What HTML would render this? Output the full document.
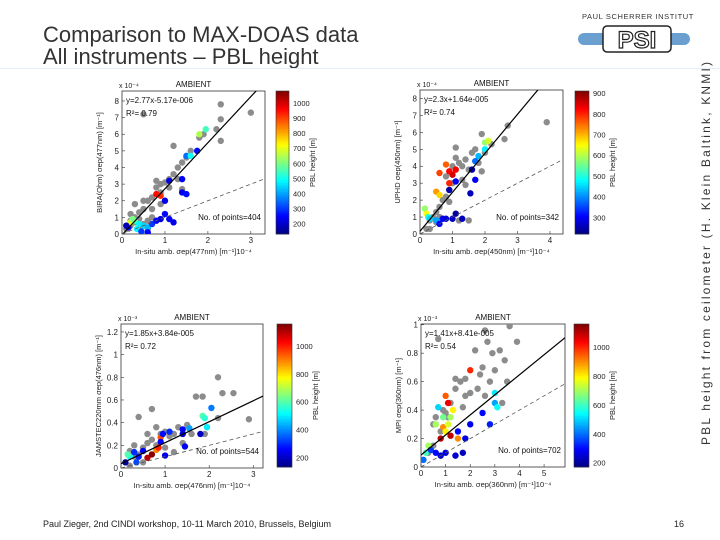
<!DOCTYPE html>
<html><head><meta charset="utf-8">
<style>
body{margin:0;background:#fff;}
#root{position:relative;width:720px;height:540px;overflow:hidden;background:#fff;font-family:"Liberation Sans",sans-serif;}
.title{position:absolute;left:43px;top:24px;font-size:22px;line-height:22px;color:#333;}
.foot{position:absolute;top:519px;font-size:9px;color:#222;}
svg text{font-family:"Liberation Sans",sans-serif;}
</style></head><body>
<div id="root">
<div class="title">Comparison to MAX-DOAS data<br>All instruments – PBL height</div>
<svg style="position:absolute;left:570px;top:8px" width="130" height="50">
<text x="12" y="11" font-size="7.5" fill="#333" letter-spacing="0.6">PAUL SCHERRER INSTITUT</text>
<rect x="8" y="25" width="112" height="12" rx="6" fill="#6a9fcf"/>
<rect x="33" y="18" width="68" height="26" rx="4" fill="#fff" stroke="#222" stroke-width="1.5"/>
<text x="67" y="40" font-size="24" font-weight="bold" text-anchor="middle" fill="#fff" stroke="#222" stroke-width="1.2">PSI</text>
</svg>
<div style="position:absolute;left:0;top:68px;width:720px;height:1px;background:#dff2f5"></div>
<svg style="position:absolute;left:690px;top:55px" width="25" height="395">
<text x="0" y="0" font-size="12" fill="#333" transform="translate(20 390) rotate(-90)" textLength="383" lengthAdjust="spacing">PBL height from ceilometer (H. Klein Baltink, KNMI)</text>
</svg>
<div class="foot" style="left:43px">Paul Zieger, 2nd CINDI workshop, 10-11 March 2010, Brussels, Belgium</div>
<div class="foot" style="left:674px">16</div>
<svg id="charts" width="720" height="540" style="position:absolute;left:0;top:0"></svg>
</div>
<script>
// Plot 1: BIRA (x 1e-4, y 1e-4)
const p1GrayX=[0.2,0.3,0.4,0.5,0.6,0.7,0.8,0.9,1,1.1,1.2,1.3,1.4,1.6,1.2,0.5,2.3,3,2.3,2.2,2.3,1.8,0.3,0.4,0.6,0.7,0.9,0.5,0.3,0.2,0.1,0.6,1.1,1.4,0.8,1.5,1.9,0.4,0.2,0.7,0.5,1,1.3,0.9];
const p1GrayY=[0.5,1,1.3,1.5,2,2.2,2.8,3,3.1,3.3,3.6,4,4.3,5,5.3,7.2,7.8,7.3,6.9,6.3,5.6,5.8,0.7,0.4,0.8,1.5,2.5,2,1.8,1.2,0.3,0.3,2.8,2.7,3.2,4.6,6.0,0.9,0.8,1.0,0.6,2,3.3,1.8];
const p1X=[0.15,0.2,0.3,0.4,0.5,0.6,0.7,0.8,0.9,1,1.1,1.2,0.8,0.9,1,1.1,1.4,1.4,1.5,1.5,1.6,1.75,1.8,1.95,0.35,0.45,0.6,0.25,0.1];
const p1Y=[0.4,0.7,0.8,0.6,0.5,0.4,0.6,0.8,0.9,1.2,0.9,0.7,2.4,2.3,2.0,3.2,3.3,2.5,2.4,4.7,4.7,5.0,6.0,6.3,0.3,0.15,0.1,0.9,0.5];
const p1C=[250,700,560,480,450,420,300,250,220,250,240,230,950,920,230,220,240,230,260,350,500,260,650,550,480,300,250,600,180];
// Plot 2: UPHD
const p2GrayX=[0.2,0.3,0.4,0.5,0.6,0.7,0.8,0.9,1,1.1,1.2,1.1,1.3,1.4,1.5,1.6,1.7,1.9,2.0,2.6,2.7,3.9,1.9,1.3,1,0.8,0.5,0.3,0.6,1.2,1.5,0.9,1.4,2.2,1.8];
const p2GrayY=[0.3,0.8,1,1.3,1.6,2,2.2,2.6,3,4.5,4.2,5.1,4,4.4,3.8,4.8,5,5.9,4.8,5.6,6.4,6.6,3.7,3.2,4,3.4,0.7,0.3,1,0.8,0.8,1.9,2.9,5.3,4.2];
const p2X=[0.15,0.2,0.25,0.3,0.5,0.6,0.7,0.8,1.0,1.1,1.3,0.5,0.6,0.8,0.9,1.0,0.6,0.9,1.1,1.1,0.9,1.6,1.7,1.55,2.0,2.1,2.0,1.8,1.7];
const p2Y=[1.5,1.2,1.0,0.9,0.8,0.6,0.9,0.9,0.9,1.2,0.9,2.5,2.3,4.1,3.7,3.5,3.6,3.0,3.8,3.1,2.6,3.8,3.2,2.4,5.4,5.5,5.0,4.6,4.3];
const p2C=[580,650,500,450,420,300,300,280,270,240,260,720,680,760,820,850,780,800,830,300,250,250,300,260,580,620,470,430,380];
// Plot 3: JAMSTEC (x 1e-4, y 1e-3)
const p3GrayX=[0.2,0.3,0.4,0.5,0.6,0.7,0.8,0.9,1,1.1,1.2,1.3,0.7,0.4,1.6,1.7,1.85,2.2,2.3,2.55,2.9,2.2,1.9,1.5,0.8,0.3,0.5,0.2,1,1.2,1.4,0.6];
const p3GrayY=[0.15,0.2,0.12,0.18,0.22,0.25,0.2,0.3,0.32,0.28,0.3,0.36,0.52,0.45,0.3,0.63,0.63,0.8,0.66,0.66,0.43,0.44,0.3,0.38,0.36,0.1,0.05,0.02,0.18,0.14,0.22,0.3];
const p3X=[0.1,0.2,0.15,0.3,0.4,0.5,0.6,0.7,0.8,0.85,0.9,0.95,1,1.1,0.9,1.4,1.4,1.45,1.55,1.8,1.85,1.9,1.95,2.05,0.35];
const p3Y=[0.05,0.1,0.12,0.14,0.1,0.15,0.09,0.12,0.16,0.18,0.27,0.3,0.11,0.32,0.23,0.34,0.3,0.19,0.35,0.3,0.46,0.44,0.36,0.53,0.05];
const p3C=[160,520,600,300,280,250,1100,1150,900,1000,950,270,240,300,260,260,220,250,420,200,600,560,500,380,330];
// Plot 4: MPI (x 1e-4, y 1e-3)
const p4GrayX=[0.5,0.6,0.8,0.9,1,1.2,1.4,1.6,1.8,2,2.2,2.4,2.5,2.6,2.7,2.9,3.0,3.2,3.4,3.6,3.9,3.5,3.3,2.3,1.4,0.7,1.1,1.8,2.8,0.3,0.5,1.7,2.6];
const p4GrayY=[0.3,0.35,0.25,0.4,0.38,0.45,0.55,0.6,0.62,0.52,0.82,0.65,0.7,0.96,0.88,0.8,0.68,0.82,0.75,0.99,0.88,0.6,0.45,0.55,0.62,0.9,0.35,0.5,0.6,0.1,0.15,0.42,0.5];
const p4X=[0.1,0.2,0.3,0.4,0.6,0.8,1,1.4,1.7,0.8,0.9,1,1.1,0.9,0.7,1.0,1.1,1.3,1.2,1.5,1.8,2,2.5,2.8,3,3.0,3.1,2.0,1.5,0.6,1.2];
const p4Y=[0.05,0.1,0.15,0.12,0.1,0.08,0.1,0.08,0.1,0.2,0.28,0.25,0.3,0.35,0.42,0.5,0.45,0.4,0.35,0.25,0.2,0.3,0.38,0.3,0.45,0.52,0.42,0.68,0.2,0.3,0.22];
const p4C=[400,600,700,350,300,250,260,250,230,1100,900,800,750,650,500,950,1050,800,700,300,270,280,300,320,450,520,550,1000,900,700,1100];

const NS='http://www.w3.org/2000/svg';
const svg=document.getElementById('charts');
function jet(t){t=Math.max(0,Math.min(1,t));
  const r=Math.max(0,Math.min(1,1.5-Math.abs(4*t-3))),g=Math.max(0,Math.min(1,1.5-Math.abs(4*t-2))),b=Math.max(0,Math.min(1,1.5-Math.abs(4*t-1)));
  return 'rgb('+Math.round(r*255)+','+Math.round(g*255)+','+Math.round(b*255)+')';}
function mk(tag,attrs,parent){const e=document.createElementNS(NS,tag);for(const k in attrs)e.setAttribute(k,attrs[k]);(parent||svg).appendChild(e);return e;}
function txt(s,attrs,parent){const e=mk('text',attrs,parent);e.textContent=s;return e;}

function plot(c){
  const g=mk('g',{});
  
  
  const X=v=>c.x0+(v-c.xmin)/(c.xmax-c.xmin)*(c.x1-c.x0);
  const Y=v=>c.y0-(v-c.ymin)/(c.ymax-c.ymin)*(c.y0-c.y1);
  const ax=mk('rect',{x:c.x0,y:c.y1,width:c.x1-c.x0,height:c.y0-c.y1,fill:'#fff',stroke:'#333','stroke-width':0.8},g);
  
  
  c.xt.forEach(v=>{const t=txt(String(v),{x:X(v),y:c.y0+9,'font-size':8,'text-anchor':'middle',fill:'#222'},g);
    
    mk('line',{x1:X(v),x2:X(v),y1:c.y0,y2:c.y0-3,stroke:'#333','stroke-width':0.6},g);});
  c.yt.forEach(v=>{const t=txt(String(v),{x:c.x0-3,y:Y(v)+3,'font-size':8,'text-anchor':'end',fill:'#222'},g);
    
    mk('line',{x1:c.x0,x2:c.x0+3,y1:Y(v),y2:Y(v),stroke:'#333','stroke-width':0.6},g);});
  const clip='clip'+c.name;
  const cp=mk('clipPath',{id:clip},g);mk('rect',{x:c.x0,y:c.y1,width:c.x1-c.x0,height:c.y0-c.y1},cp);
  const pg=mk('g',{'clip-path':'url(#'+clip+')'},g);
  c.gx.forEach((v,i)=>{const p=mk('circle',{cx:X(v),cy:Y(c.gy[i]),r:3.2,fill:'#8c8c8c'},pg);
    });
  c.cx.forEach((v,i)=>{const p=mk('circle',{cx:X(v),cy:Y(c.cy[i]),r:3.2,fill:jet((c.cc[i]-c.cmin)/(c.cmax-c.cmin))},pg);
    });
  const fl=mk('line',{x1:X(c.xmin),y1:Y(c.slope*c.xmin+c.icpt),x2:X(c.xmax),y2:Y(c.slope*c.xmax+c.icpt),stroke:'#000','stroke-width':1.2},pg);
  
  const dl=mk('line',{x1:X(c.xmin),y1:Y(c.one*c.xmin),x2:X(c.xmax),y2:Y(c.one*c.xmax),stroke:'#555','stroke-width':0.8,'stroke-dasharray':'4,3'},pg);
  
  let t=txt(c.eq,{x:c.x0+4,y:c.y1+12,'font-size':8,fill:'#111'},g);
  t=txt('R²= '+c.r2,{x:c.x0+4,y:c.y1+25,'font-size':8,fill:'#111'},g);
  t=txt('No. of points='+c.n,{x:c.x1-4,y:c.y0-14,'font-size':8,'text-anchor':'end',fill:'#111'},g);
  t=txt('AMBIENT',{x:(c.x0+c.x1)/2,y:c.y1-4,'font-size':8,'text-anchor':'middle',fill:'#111'},g);
  t=txt('x 10'+c.yexp,{x:c.x0-3,y:c.y1-3,'font-size':7,fill:'#222'},g);
  t=txt(c.xlab,{x:(c.x0+c.x1)/2,y:c.y0+20,'font-size':7.5,'text-anchor':'middle',fill:'#222'},g);
  const yx=c.x0-20,yy=(c.y0+c.y1)/2;
  t=txt(c.ylab,{x:yx,y:yy,'font-size':7.5,'text-anchor':'middle',fill:'#222',transform:'rotate(-90 '+yx+' '+yy+')'},g);
  const cb=mk('g',{},g);
  const N=64,h=(c.cbB-c.cbT)/N;
  for(let i=0;i<N;i++)mk('rect',{x:c.cbL,y:c.cbB-(i+1)*h,width:c.cbW,height:h+0.4,fill:jet((i+0.5)/N)},cb);
  mk('rect',{x:c.cbL,y:c.cbT,width:c.cbW,height:c.cbB-c.cbT,fill:'none',stroke:'#333','stroke-width':0.6},cb);
  const CY=v=>c.cbB-(v-c.cmin)/(c.cmax-c.cmin)*(c.cbB-c.cbT);
  c.ct.forEach(v=>{const e=txt(String(v),{x:c.cbL+c.cbW+4,y:CY(v)+3,'font-size':7.5,fill:'#222'},cb);
    });
  const lx=c.cbL+c.cbW+26,ly=(c.cbT+c.cbB)/2;
  t=txt('PBL height [m]',{x:lx,y:ly,'font-size':7.5,'text-anchor':'middle',fill:'#222',transform:'rotate(-90 '+lx+' '+ly+')'},cb);
  
}
plot({name:'chart-bira',x0:122,x1:265,y0:234,y1:91,xmin:0,xmax:3.33,ymin:0,ymax:8.6,xt:[0,1,2,3],yt:[0,1,2,3,4,5,6,7,8],
  gx:p1GrayX,gy:p1GrayY,cx:p1X,cy:p1Y,cc:p1C,cmin:130,cmax:1080,slope:2.77,icpt:-0.05,one:1,
  eq:'y=2.77x-5.17e-006',r2:'0.79',n:404,yexp:'⁻⁴',xlab:'In-situ amb. σep(477nm) [m⁻¹]10⁻⁴',ylab:'BIRA(Ohm) σep(477nm) [m⁻¹]',
  cbL:276,cbW:13,cbT:91,cbB:234,ct:[200,300,400,500,600,700,800,900,1000]});
plot({name:'chart-uphd',x0:420,x1:563,y0:234,y1:90,xmin:0,xmax:4.4,ymin:0,ymax:8.5,xt:[0,1,2,3,4],yt:[0,1,2,3,4,5,6,7,8],
  gx:p2GrayX,gy:p2GrayY,cx:p2X,cy:p2Y,cc:p2C,cmin:220,cmax:910,slope:2.3,icpt:0.164,one:1,
  eq:'y=2.3x+1.64e-005',r2:'0.74',n:342,yexp:'⁻⁴',xlab:'In-situ amb. σep(450nm) [m⁻¹]10⁻⁴',ylab:'UPHD σep(450nm) [m⁻¹]',
  cbL:575,cbW:14,cbT:91,cbB:234,ct:[300,400,500,600,700,800,900]});
plot({name:'chart-jamstec',x0:121,x1:263,y0:468,y1:324,xmin:0,xmax:3.22,ymin:0,ymax:1.27,xt:[0,1,2,3],yt:[0,0.2,0.4,0.6,0.8,1,1.2],
  gx:p3GrayX,gy:p3GrayY,cx:p3X,cy:p3Y,cc:p3C,cmin:130,cmax:1160,slope:0.185,icpt:0.0384,one:0.1,
  eq:'y=1.85x+3.84e-005',r2:'0.72',n:544,yexp:'⁻³',xlab:'In-situ amb. σep(476nm) [m⁻¹]10⁻⁴',ylab:'JAMSTEC220mm σep(476nm) [m⁻¹]',
  cbL:277,cbW:15,cbT:324,cbB:467,ct:[200,400,600,800,1000]});
plot({name:'chart-mpi',x0:421,x1:565,y0:467,y1:324,xmin:0,xmax:5.85,ymin:0,ymax:1.005,xt:[0,1,2,3,4,5],yt:[0,0.2,0.4,0.6,0.8,1],
  gx:p4GrayX,gy:p4GrayY,cx:p4X,cy:p4Y,cc:p4C,cmin:170,cmax:1160,slope:0.141,icpt:0.0841,one:0.1,
  eq:'y=1.41x+8.41e-005',r2:'0.54',n:702,yexp:'⁻³',xlab:'In-situ amb. σep(360nm) [m⁻¹]10⁻⁴',ylab:'MPI σep(360nm) [m⁻¹]',
  cbL:574,cbW:15,cbT:324,cbB:467,ct:[200,400,600,800,1000]});
</script>
</body></html>
